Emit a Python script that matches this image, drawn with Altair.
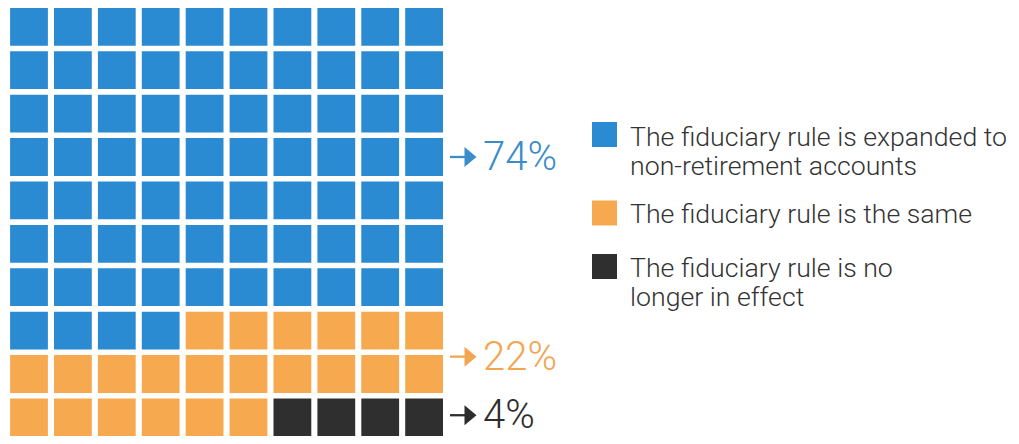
import altair as alt
import pandas as pd

# ---- data ----
categories = [
    "The fiduciary rule is expanded to\nnon-retirement accounts",
    "The fiduciary rule is the same",
    "The fiduciary rule is no\nlonger in effect",
]
counts = [74, 22, 4]
percent_labels = ["74%", "22%", "4%"]
colors = ["#2a8bd3", "#f7a950", "#2f2f2f"]
text_colors = ["#3a8ccb", "#f2a652", "#2d2d2d"]

# ---- layout constants (pixels in plot coords) ----
W, H = 1003, 428
N_COLS = 10
X_OFF, XP = 21.0, 43.9      # center of first column, column pitch
Y_OFF, YP = 18.8, 43.4      # center of first row, row pitch
SIDE = 37.8


def ux(px):
    return (px - X_OFF) / XP


def uy(py):
    return (py - Y_OFF) / YP


xscale = alt.Scale(domain=[ux(0), ux(W)], range=[0, W])
yscale = alt.Scale(domain=[uy(0), uy(H)], range=[0, H])

# waffle cells
cells = []
idx = 0
for ci, (cat, n) in enumerate(zip(categories, counts)):
    for _ in range(n):
        cells.append({"col": idx % N_COLS, "row": idx // N_COLS, "cat": cat, "ci": ci})
        idx += 1
cells_df = pd.DataFrame(cells)

color_scale = alt.Scale(domain=categories, range=colors)

waffle = alt.Chart(cells_df).mark_square(size=SIDE * SIDE, opacity=1, strokeWidth=0).encode(
    x=alt.X("col:Q", scale=xscale, axis=None),
    y=alt.Y("row:Q", scale=yscale, axis=None),
    color=alt.Color("cat:N", scale=color_scale, legend=None),
)

# annotations (arrow + percent)
label_rows = [3.0, 7.6, 8.95]
ann_df = pd.DataFrame({
    "row": label_rows,
    "label": percent_labels,
    "tcolor": text_colors,
    "x_start": [ux(442)] * 3,
    "x_end": [ux(461)] * 3,
    "x_head": [ux(462.5)] * 3,
    "x_text": [ux(475)] * 3,
})

arrow_line = alt.Chart(ann_df).mark_rule(strokeWidth=2.3).encode(
    x=alt.X("x_start:Q", scale=xscale, axis=None),
    x2="x_end:Q",
    y=alt.Y("row:Q", scale=yscale, axis=None),
    color=alt.Color("tcolor:N", scale=None),
)
arrow_head = alt.Chart(ann_df).mark_point(
    shape="M -0.6 -1 L 0.6 0 L -0.6 1 Z", size=400, filled=True, opacity=1, strokeWidth=0
).encode(
    x=alt.X("x_head:Q", scale=xscale, axis=None),
    y=alt.Y("row:Q", scale=yscale, axis=None),
    color=alt.Color("tcolor:N", scale=None),
)
pct_text = alt.Chart(ann_df).mark_text(
    align="left", baseline="middle", font="Roboto", fontSize=40, fontWeight=300, dy=1
).encode(
    x=alt.X("x_text:Q", scale=xscale, axis=None),
    y=alt.Y("row:Q", scale=yscale, axis=None),
    text="label:N",
    color=alt.Color("tcolor:N", scale=None),
)

# custom legend
leg_df = pd.DataFrame({
    "cat": categories,
    "sx": [ux(596.5)] * 3,
    "sy": [uy(126.5), uy(205), uy(258.5)],
    "tx": [ux(622)] * 3,
    "ty": [uy(137.5), uy(214.5), uy(268.5)],
})
leg_sq = alt.Chart(leg_df).mark_square(size=625, opacity=1, strokeWidth=0).encode(
    x=alt.X("sx:Q", scale=xscale, axis=None),
    y=alt.Y("sy:Q", scale=yscale, axis=None),
    color=alt.Color("cat:N", scale=color_scale, legend=None),
)
leg_txt = alt.Chart(leg_df).mark_text(
    align="left", baseline="alphabetic", font="Roboto", fontSize=26.7, fontWeight=300,
    lineBreak="\n", lineHeight=29, color="#333333"
).encode(
    x=alt.X("tx:Q", scale=xscale, axis=None),
    y=alt.Y("ty:Q", scale=yscale, axis=None),
    text="cat:N",
)

chart = alt.layer(waffle, arrow_line, arrow_head, pct_text, leg_sq, leg_txt).properties(
    width=W, height=H, padding=0, autosize=alt.AutoSizeParams(type="none"),
    background="white",
).configure_view(stroke=None)

chart.save("out.html", embed_options={"renderer": "svg", "actions": False})
